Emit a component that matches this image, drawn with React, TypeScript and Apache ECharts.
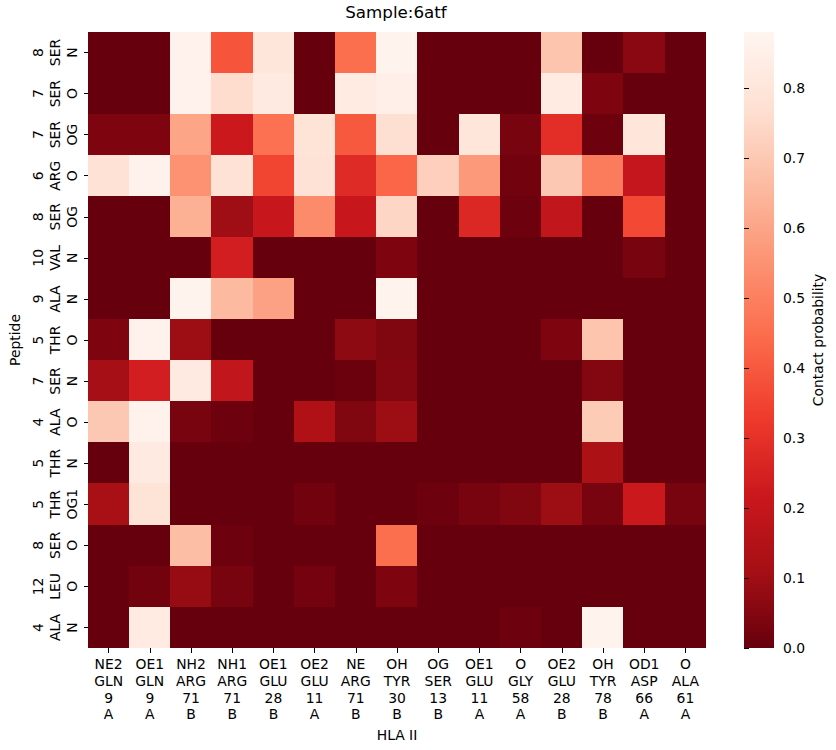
import React, { useEffect, useRef } from "react";
import * as echarts from "echarts";

// HLA II atoms (columns)
const hlaAtoms = ["NE2", "OE1", "NH2", "NH1", "OE1", "OE2", "NE", "OH", "OG", "OE1", "O", "OE2", "OH", "OD1", "O"];
const hlaResidues = ["GLN", "GLN", "ARG", "ARG", "GLU", "GLU", "ARG", "TYR", "SER", "GLU", "GLY", "GLU", "TYR", "ASP", "ALA"];
const hlaNumbers = ["9", "9", "71", "71", "28", "11", "71", "30", "13", "11", "58", "28", "78", "66", "61"];
const hlaChains = ["A", "A", "B", "B", "B", "A", "B", "B", "B", "A", "A", "B", "B", "A", "A"];

// Peptide atoms (rows, top to bottom)
const pepNumbers = ["8", "7", "7", "6", "8", "10", "9", "5", "7", "4", "5", "5", "8", "12", "4"];
const pepResidues = ["SER", "SER", "SER", "ARG", "SER", "VAL", "ALA", "THR", "SER", "ALA", "THR", "THR", "SER", "LEU", "ALA"];
const pepAtoms = ["N", "O", "OG", "O", "OG", "N", "N", "O", "N", "O", "N", "OG1", "O", "O", "N"];

// Contact probability, one row per peptide atom
const contactProb = [
  [0, 0, 0.86, 0.39, 0.8, 0, 0.45, 0.87, 0, 0, 0, 0.69, 0, 0.06, 0],
  [0, 0, 0.86, 0.76, 0.82, 0, 0.83, 0.85, 0, 0, 0, 0.83, 0.04, 0, 0],
  [0.04, 0.04, 0.6, 0.22, 0.46, 0.79, 0.4, 0.77, 0, 0.8, 0.03, 0.29, 0.01, 0.8, 0],
  [0.78, 0.86, 0.55, 0.78, 0.35, 0.78, 0.28, 0.43, 0.72, 0.57, 0.02, 0.7, 0.49, 0.2, 0],
  [0, 0, 0.63, 0.1, 0.21, 0.53, 0.21, 0.74, 0, 0.27, 0.01, 0.19, 0, 0.36, 0],
  [0, 0, 0, 0.24, 0, 0, 0, 0.04, 0, 0, 0, 0, 0, 0.03, 0],
  [0, 0, 0.87, 0.66, 0.59, 0, 0, 0.87, 0, 0, 0, 0, 0, 0, 0],
  [0.04, 0.86, 0.095, 0, 0, 0, 0.07, 0.045, 0, 0, 0, 0.04, 0.69, 0, 0],
  [0.11, 0.24, 0.82, 0.19, 0, 0, 0.005, 0.05, 0, 0, 0, 0, 0.05, 0, 0],
  [0.7, 0.86, 0.03, 0.01, 0, 0.14, 0.045, 0.095, 0, 0, 0, 0, 0.71, 0, 0],
  [0, 0.82, 0, 0, 0, 0, 0, 0, 0, 0, 0, 0, 0.13, 0, 0],
  [0.12, 0.79, 0, 0, 0, 0.02, 0, 0, 0.01, 0.03, 0.045, 0.095, 0.03, 0.22, 0.03],
  [0, 0, 0.67, 0.01, 0, 0, 0, 0.45, 0, 0, 0, 0, 0, 0, 0],
  [0, 0.02, 0.085, 0.03, 0, 0.025, 0, 0.04, 0, 0, 0, 0, 0, 0, 0],
  [0, 0.83, 0, 0, 0, 0, 0, 0, 0, 0, 0.01, 0, 0.87, 0, 0],
];

const colorMax = 0.88;
const colorbarTicks = [0, 0.1, 0.2, 0.3, 0.4, 0.5, 0.6, 0.7, 0.8];
const redsReversed = ["#67000d", "#a50f15", "#cb181d", "#ef3b2c", "#fb6a4a", "#fc9272", "#fcbba1", "#fee0d2", "#fff5f0"];

const FONT = "DejaVu Sans";
const TICK_FS = 13.9;

// Colorbar box
const CB = { x: 744, y: 32, w: 30, h: 616 };

export default function App() {
  const ref = useRef<HTMLDivElement>(null);

  useEffect(() => {
    if (!ref.current) return;
    const chart = echarts.init(ref.current, undefined, { renderer: "svg" });

    const xCats = hlaAtoms.map((a, i) => [a, hlaResidues[i], hlaNumbers[i], hlaChains[i]].join("\n"));
    const yCats = pepAtoms.map((a, i) => [pepNumbers[i], pepResidues[i], a].join("\n"));
    const data: [number, number, number][] = [];
    contactProb.forEach((row, r) => row.forEach((v, c) => data.push([c, r, v])));

    const textStyle = { color: "#000", fontFamily: FONT, fontSize: TICK_FS };

    // colorbar gradient, offsets ascending from the top (colorMax) down to 0
    const topToBottom = redsReversed.slice().reverse();
    const gradientStops = topToBottom.map((color, i) => ({
      offset: i / (topToBottom.length - 1),
      color,
    }));

    chart.setOption({
      animation: false,
      textStyle: { fontFamily: FONT },
      title: {
        text: "Sample:6atf",
        left: 396,
        textAlign: "center",
        top: 3.5,
        padding: 0,
        textStyle: { color: "#000", fontFamily: FONT, fontSize: 16.7, fontWeight: "normal" },
      },
      grid: [
        { left: 86, top: 32, width: 620, height: 616 },
        { left: CB.x, top: CB.y, width: CB.w, height: CB.h },
      ],
      xAxis: [
        {
          type: "category",
          gridIndex: 0,
          data: xCats,
          name: "HLA II",
          nameLocation: "middle",
          nameGap: 78,
          nameTextStyle: textStyle,
          axisLine: { show: false },
          axisTick: { show: true, alignWithLabel: true, length: 4.5, lineStyle: { color: "#000" } },
          axisLabel: { ...textStyle, interval: 0, margin: 8, lineHeight: 16.7 },
          splitLine: { show: false },
        },
        { type: "value", gridIndex: 1, show: false, min: 0, max: 1 },
      ],
      yAxis: [
        {
          type: "category",
          gridIndex: 0,
          data: yCats,
          inverse: true,
          name: "Peptide",
          nameLocation: "middle",
          nameGap: 58,
          nameRotate: 90,
          nameTextStyle: textStyle,
          axisLine: { show: false },
          axisTick: { show: true, alignWithLabel: true, length: 4.5, lineStyle: { color: "#000" } },
          axisLabel: { ...textStyle, interval: 0, margin: 8, lineHeight: 16.7, rotate: 90 },
          splitLine: { show: false },
        },
        {
          type: "value",
          gridIndex: 1,
          position: "right",
          min: 0,
          max: colorMax,
          name: "Contact probability",
          nameLocation: "middle",
          nameGap: 37,
          nameRotate: 90,
          nameTextStyle: textStyle,
          axisLine: { show: false },
          axisTick: {
            show: true,
            length: 4.5,
            customValues: colorbarTicks,
            lineStyle: { color: "#000" },
          },
          axisLabel: {
            ...textStyle,
            margin: 9,
            customValues: colorbarTicks,
            formatter: (v: number) => v.toFixed(1),
          },
          splitLine: { show: false },
        },
      ],
      visualMap: {
        type: "continuous",
        show: false,
        seriesIndex: 0,
        min: 0,
        max: colorMax,
        inRange: { color: redsReversed },
      },
      graphic: [
        {
          type: "rect",
          silent: true,
          z: -1,
          shape: { x: CB.x, y: CB.y, width: CB.w, height: CB.h },
          style: { fill: new echarts.graphic.LinearGradient(0, 0, 0, 1, gradientStops) },
        },
      ],
      series: [
        {
          type: "heatmap",
          xAxisIndex: 0,
          yAxisIndex: 0,
          data,
          itemStyle: { borderWidth: 0 },
          emphasis: { disabled: true },
          progressive: 0,
        },
      ],
    });

    return () => chart.dispose();
  }, []);

  return (
    <>
      <style>{`.contact-map svg path { shape-rendering: crispEdges; }`}</style>
      <div
        ref={ref}
        className="contact-map"
        style={{ position: "fixed", left: 0, top: 0, width: 836, height: 750, background: "#fff" }}
      />
    </>
  );
}
